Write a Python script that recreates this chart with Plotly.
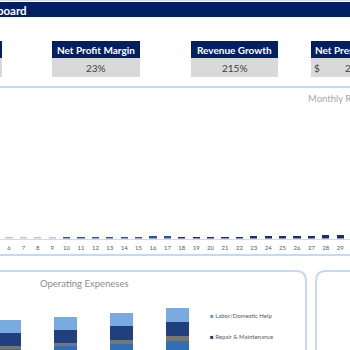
import plotly.graph_objects as go

# ---------------- data ----------------
months = list(range(6, 31))
monthly_revenue = [1.0, 1.0, 1.0, 1.0, 1.5, 1.5, 1.5, 1.5, 1.5, 1.5, 2.2, 2.2,
                   1.6, 1.6, 2.0, 2.0, 2.0, 2.2, 2.2, 2.8, 3.0, 3.0, 3.5, 4.0, 4.2]
month_colors = (["#b4c7e7"] * 4) + (["#2f5597"] * 8) + (["#1a2f66"] * 13)

years = ["Year 1", "Year 2", "Year 3", "Year 4"]
opex_utilities = [5100, 5400, 5600, 5900]
opex_other = [300, 300, 400, 500]
opex_repair = [1300, 1300, 1400, 1400]
opex_labor = [1300, 1300, 1330, 1400]

kpi_names = ["Net Profit Margin", "Revenue Growth", "Net Present Value"]
kpi_values = ["23%", "215%", "2,183,954"]

W = H = 350.0
def X(px):
    return px / W
def Y(py):
    return 1 - py / H

NAVY = "#002060"
BORDER = "#c5d9f1"
FONT = "Lato"

fig = go.Figure()

# Monthly revenue bars
fig.add_trace(go.Bar(
    x=months, y=monthly_revenue, marker=dict(color=month_colors, line=dict(width=0)),
    width=0.5, xaxis="x", yaxis="y", showlegend=False, hoverinfo="skip"))

# Operating expenses stacked bars
for name, vals, col in [("Utilities", opex_utilities, "#2f6fb5"),
                        ("Other", opex_other, "#767676"),
                        ("Repair & Maintenance", opex_repair, "#223f7f"),
                        ("Labor/Domestic Help", opex_labor, "#79abe0")]:
    fig.add_trace(go.Bar(x=years, y=vals, name=name, marker=dict(color=col, line=dict(width=0)),
                         width=0.41, xaxis="x2", yaxis="y2", showlegend=False, hoverinfo="skip"))

shapes = []
# top strip
shapes.append(dict(type="rect", xref="paper", yref="paper", x0=X(-5), x1=X(355), y0=Y(2), y1=Y(17),
                   fillcolor=NAVY, line=dict(width=0), layer="below"))
shapes.append(dict(type="line", xref="paper", yref="paper", x0=X(-5), x1=X(355), y0=Y(0.5), y1=Y(0.5),
                   line=dict(color="#d9d9d9", width=1)))

# KPI boxes
boxes = [(-86, 2), (52, 140), (191, 278), (311, 399)]
for x0, x1 in boxes:
    shapes.append(dict(type="rect", xref="paper", yref="paper", x0=X(x0), x1=X(x1), y0=Y(41), y1=Y(58),
                       fillcolor=NAVY, line=dict(width=0), layer="below"))
    shapes.append(dict(type="rect", xref="paper", yref="paper", x0=X(x0), x1=X(x1), y0=Y(58), y1=Y(77),
                       fillcolor="#d9d9d9", line=dict(width=0), layer="below"))

# Monthly revenue panel border
shapes.append(dict(type="rect", xref="paper", yref="paper", x0=X(-10), x1=X(360), y0=Y(87), y1=Y(255),
                   line=dict(color=BORDER, width=2), fillcolor="rgba(0,0,0,0)"))

# Operating expenses panel (rounded top-right corner)
r = 10
p1 = (f"M {X(-10)},{Y(400)} L {X(-10)},{Y(271)} L {X(306-r)},{Y(271)} "
      f"Q {X(306)},{Y(271)} {X(306)},{Y(271+r)} L {X(306)},{Y(400)}")
shapes.append(dict(type="path", xref="paper", yref="paper", path=p1, line=dict(color=BORDER, width=2)))
p2 = (f"M {X(316)},{Y(400)} L {X(316)},{Y(271+r)} Q {X(316)},{Y(271)} {X(316+r)},{Y(271)} "
      f"L {X(370)},{Y(271)}")
shapes.append(dict(type="path", xref="paper", yref="paper", path=p2, line=dict(color=BORDER, width=2)))

annotations = []
def ann(text, x, y, size, color, xanchor="center", bold=False):
    if bold:
        text = f"<b>{text}</b>"
    annotations.append(dict(text=text, x=X(x), y=Y(y), xref="paper", yref="paper", showarrow=False,
                            xanchor=xanchor, yanchor="middle", font=dict(family=FONT, size=size, color=color)))

ann("Dashboard", 29, 10, 11.5, "white", xanchor="right", bold=True)
centers = [96, 234.5, 355]
for c, n in zip(centers, kpi_names):
    ann(n, c, 49.5, 10, "white", bold=True)
ann(kpi_values[0], 96, 67.5, 10, "#404040")
ann(kpi_values[1], 234.5, 67.5, 10, "#404040")
ann("$", 312, 67.5, 10, "#404040", xanchor="left")
ann(kpi_values[2], 343, 67.5, 10, "#404040", xanchor="left")

ann("Monthly Revenue", 306, 98, 9.5, "#a6a6a6", xanchor="left")
ann("Operating Expeneses", 84, 283, 9.5, "#8c8c8c")
ann("<span style='color:#5b9bd5'>■</span> Labor/Domestic Help", 208, 315, 6, "#595959", xanchor="left")
ann("<span style='color:#1f3864'>■</span> Repair &amp; Maintenance", 208, 336, 6, "#595959", xanchor="left")

fig.update_layout(
    width=350, height=350, margin=dict(l=0, r=0, t=0, b=0),
    paper_bgcolor="white", plot_bgcolor="rgba(0,0,0,0)",
    barmode="stack", shapes=shapes, annotations=annotations,
    font=dict(family=FONT),
    xaxis=dict(domain=[0, 1], range=[6 - 9 / 14.4, 6 - 9 / 14.4 + 350 / 14.4], tickmode="array",
               tickvals=months, ticktext=[str(m) for m in months], showgrid=False, zeroline=False,
               showline=True, linecolor="#d9d9d9", linewidth=1, ticks="", ticklabelstandoff=3,
               tickfont=dict(family=FONT, size=6, color="#595959"), anchor="y", fixedrange=True),
    yaxis=dict(domain=[Y(238.5), Y(100)], range=[0, 140], visible=False, fixedrange=True),
    xaxis2=dict(domain=[0, X(200)], range=[-10 / 55.7, -10 / 55.7 + 200 / 55.7], visible=False,
                anchor="y2", fixedrange=True),
    yaxis2=dict(domain=[0, X(60)], range=[5000, 11000], visible=False, anchor="x2", fixedrange=True),
)

fig.write_html("out.html", config={"displayModeBar": False})
